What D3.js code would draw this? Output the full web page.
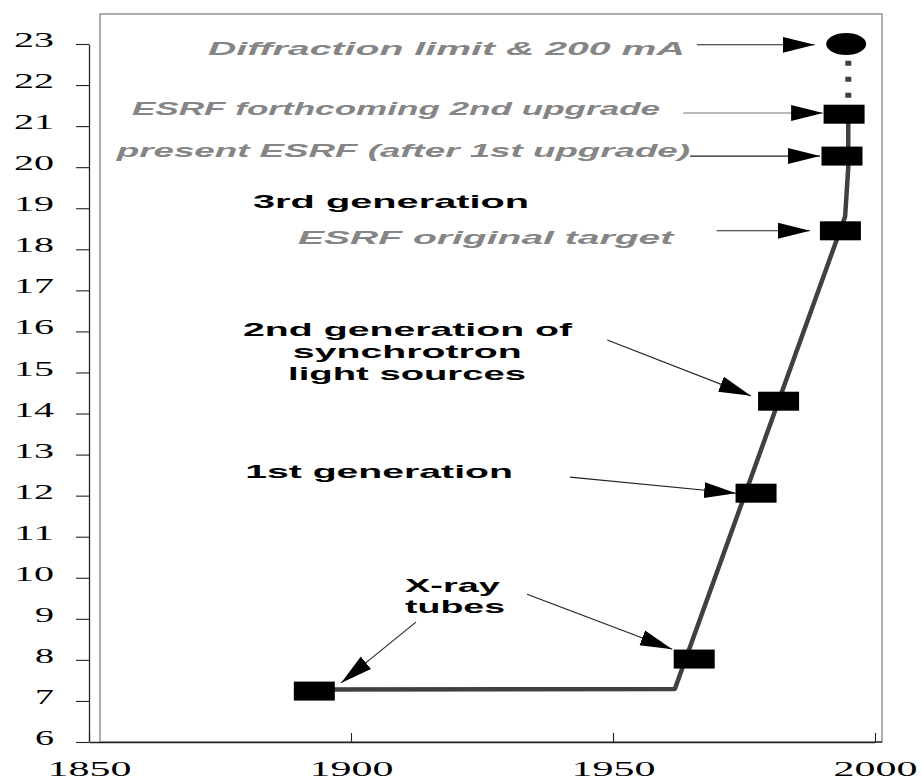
<!DOCTYPE html>
<html>
<head>
<meta charset="utf-8">
<script src="https://cdn.jsdelivr.net/npm/d3@7"></script>
<style>
  html, body { margin: 0; padding: 0; background: #ffffff; }
  svg { display: block; }
</style>
</head>
<body>
<svg id="chart" width="922" height="782"></svg>
<script>
// ---------------- data ----------------
const xTicks = [1850, 1900, 1950, 2000];
const yTicks = [6, 7, 8, 9, 10, 11, 12, 13, 14, 15, 16, 17, 18, 19, 20, 21, 22, 23];

// main trend line (year, log brilliance)
const lineYears  = [1893.0, 1961.8, 1994.3, 1994.9, 1994.9];
const lineValues = [7.28, 7.29, 18.8, 20.0, 21.2];

// projected (dotted) segment
const dottedYears  = [1994.9, 1994.9];
const dottedValues = [21.3, 22.85];

// square markers
const markerYears  = [1893.0, 1965.5, 1977.3, 1981.6, 1993.4, 1993.7, 1994.1];
const markerValues = [7.24, 8.02, 12.06, 14.30, 18.45, 20.27, 21.29];

// round marker (diffraction limit)
const limitYears  = [1994.5];
const limitValues = [23.0];

// gray italic labels: text, start year, end year, baseline value
const grayTexts  = ["Diffraction limit & 200 mA", "ESRF forthcoming 2nd upgrade", "present ESRF (after 1st upgrade)", "ESRF original target"];
const grayStart  = [1872.7, 1858.2, 1855.3, 1889.9];
const grayEnd    = [1963.7, 1959.0, 1964.7, 1961.5];
const grayBase   = [22.73, 21.27, 20.24, 18.13];

// black labels
const blackTexts = ["3rd generation", "2nd generation of", "synchrotron", "light sources", "1st generation", "X-ray", "tubes"];
const blackStart = [1881.3, 1879.4, 1888.9, 1888.0, 1879.8, 1910.3, 1910.3];
const blackEnd   = [1934.0, 1942.2, 1932.6, 1933.4, 1930.9, 1928.4, 1929.4];
const blackBase  = [19.01, 15.89, 15.35, 14.82, 12.43, 9.65, 9.14];

// arrows: from (year,value) to (year,value)
const arrowFromYears  = [1966.0, 1963.4, 1964.7, 1969.8, 1948.9, 1941.8, 1912.4, 1933.6];
const arrowFromValues = [22.98, 21.32, 20.27, 18.45, 15.79, 12.45, 8.92, 9.60];
const arrowToYears    = [1988.5, 1990.1, 1989.5, 1987.6, 1976.3, 1973.5, 1898.1, 1961.3];
const arrowToValues   = [22.98, 21.32, 20.27, 18.45, 14.43, 12.06, 7.44, 8.26];

// ---------------- drawing ----------------
const svg = d3.select("#chart");
const x = d3.scaleLinear().domain([1850, 2000]).range([89, 875]);
const y = d3.scaleLinear().domain([6, 23]).range([742, 44]);

// plot frame
svg.append("rect")
  .attr("x", 100).attr("y", 14)
  .attr("width", 782).attr("height", 728)
  .attr("fill", "none").attr("stroke", "#9a9a9a").attr("stroke-width", 1.6);

// arrowhead marker
svg.append("defs").append("marker")
  .attr("id", "head")
  .attr("markerUnits", "userSpaceOnUse")
  .attr("markerWidth", 32).attr("markerHeight", 18)
  .attr("viewBox", "0 -8 30 16")
  .attr("refX", 30).attr("refY", 0)
  .attr("orient", "auto")
  .append("path").attr("d", "M0,-7.5L30,0L0,7.5Z").attr("fill", "#000");

// axes
const yAxis = d3.axisLeft(y).tickValues(yTicks).tickSizeInner(13).tickSizeOuter(0).tickPadding(22).tickFormat(d3.format("d"));
const gy = svg.append("g").attr("transform", "translate(89,0)").call(yAxis);
gy.select(".domain").attr("stroke", "#222").attr("stroke-width", 1.3);
gy.selectAll(".tick line").attr("stroke", "#222").attr("stroke-width", 1.1);
gy.selectAll(".tick text")
  .attr("font-family", "'Liberation Serif', 'DejaVu Serif', serif")
  .attr("font-size", 21)
  .attr("fill", "#000")
  .attr("dy", "0.12em")
  .attr("textLength", d => String(d).length === 2 ? 40 : 19)
  .attr("lengthAdjust", "spacingAndGlyphs");

const xAxis = d3.axisBottom(x).tickValues(xTicks).tickSizeInner(-9).tickSizeOuter(0).tickFormat(d3.format("d"));
const gx = svg.append("g").attr("transform", "translate(0,742)").call(xAxis);
gx.select(".domain").attr("stroke", "#222").attr("stroke-width", 1.3);
gx.selectAll(".tick line").attr("stroke", "#222").attr("stroke-width", 1.1);
gx.selectAll(".tick text")
  .attr("font-family", "'Liberation Serif', 'DejaVu Serif', serif")
  .attr("font-size", 20)
  .attr("fill", "#000")
  .attr("y", 34).attr("dy", 0)
  .attr("textLength", 84)
  .attr("lengthAdjust", "spacingAndGlyphs");
svg.append("line").attr("x1", 875).attr("x2", 882).attr("y1", 742).attr("y2", 742)
  .attr("stroke", "#222").attr("stroke-width", 1.3);

// lines
const mainPts = lineYears.map((d, i) => [d, lineValues[i]]);
const line = d3.line().x(d => x(d[0])).y(d => y(d[1]));
svg.append("path").datum(mainPts).attr("d", line)
  .attr("fill", "none").attr("stroke", "#404040").attr("stroke-width", 4.5)
  .attr("stroke-linejoin", "round").attr("stroke-linecap", "round");

const dotPts = dottedYears.map((d, i) => [d, dottedValues[i]]);
svg.append("path").datum(dotPts).attr("d", line)
  .attr("fill", "none").attr("stroke", "#404040").attr("stroke-width", 6)
  .attr("stroke-dasharray", "5,11");

// markers
svg.selectAll("rect.mk").data(markerYears.map((d, i) => [d, markerValues[i]]))
  .join("rect").attr("class", "mk")
  .attr("x", d => x(d[0]) - 20.5).attr("y", d => y(d[1]) - 9.5)
  .attr("width", 41).attr("height", 19).attr("fill", "#000");

svg.selectAll("ellipse.lim").data(limitYears.map((d, i) => [d, limitValues[i]]))
  .join("ellipse").attr("class", "lim")
  .attr("cx", d => x(d[0])).attr("cy", d => y(d[1]))
  .attr("rx", 20).attr("ry", 11).attr("fill", "#000");

// arrows
svg.selectAll("line.arrow").data(arrowFromYears.map((d, i) => i))
  .join("line").attr("class", "arrow")
  .attr("x1", i => x(arrowFromYears[i])).attr("y1", i => y(arrowFromValues[i]))
  .attr("x2", i => x(arrowToYears[i])).attr("y2", i => y(arrowToValues[i]))
  .attr("stroke", i => i === 1 ? "#777" : "#222").attr("stroke-width", 1.1)
  .attr("marker-end", "url(#head)");

// labels
svg.selectAll("text.gray").data(grayTexts.map((t, i) => i))
  .join("text").attr("class", "gray")
  .attr("x", i => x(grayStart[i])).attr("y", i => y(grayBase[i]))
  .attr("textLength", i => x(grayEnd[i]) - x(grayStart[i]))
  .attr("lengthAdjust", "spacingAndGlyphs")
  .attr("font-family", "'Liberation Sans', Arial, sans-serif")
  .attr("font-size", 18).attr("font-style", "italic").attr("font-weight", "bold")
  .attr("fill", "#858585")
  .text(i => grayTexts[i]);

svg.selectAll("text.black").data(blackTexts.map((t, i) => i))
  .join("text").attr("class", "black")
  .attr("x", i => x(blackStart[i])).attr("y", i => y(blackBase[i]))
  .attr("textLength", i => x(blackEnd[i]) - x(blackStart[i]))
  .attr("lengthAdjust", "spacingAndGlyphs")
  .attr("font-family", "'Liberation Sans', Arial, sans-serif")
  .attr("font-size", 19).attr("font-weight", "bold")
  .attr("fill", "#000")
  .text(i => blackTexts[i]);
</script>
</body>
</html>
